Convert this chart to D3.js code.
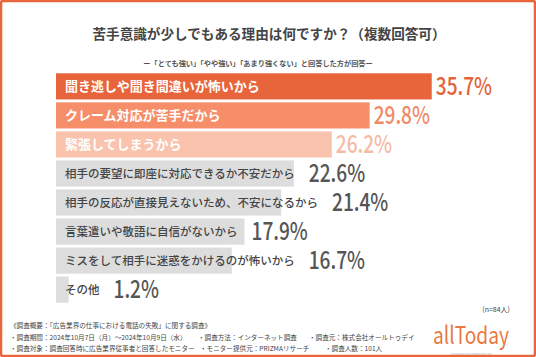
<!DOCTYPE html>
<html><head><meta charset="utf-8">
<script src="https://cdn.jsdelivr.net/npm/d3@7"></script>
<style>
html,body{margin:0;padding:0;background:#fff;}
svg{display:block;}
text{font-family:"Noto Sans CJK JP","Noto Sans",sans-serif;}
</style></head>
<body>
<svg id="c" width="536" height="357"></svg>
<script>
const categories = [
  "聞き逃しや聞き間違いが怖いから",
  "クレーム対応が苦手だから",
  "緊張してしまうから",
  "相手の要望に即座に対応できるか不安だから",
  "相手の反応が直接見えないため、不安になるから",
  "言葉遣いや敬語に自信がないから",
  "ミスをして相手に迷惑をかけるのが怖いから",
  "その他"
];
const values = [35.7, 29.8, 26.2, 22.6, 21.4, 17.9, 16.7, 1.2];
const barColors = ["#e8643a", "#f58e69", "#f9c3ae", "#dddddd", "#dddddd", "#dddddd", "#dddddd", "#dddddd"];
const valueColors = ["#e4633a", "#f08a66", "#f6bba6", "#555555", "#555555", "#555555", "#555555", "#555555"];
const labelColors = ["#ffffff", "#ffffff", "#ffffff", "#444444", "#444444", "#444444", "#444444", "#444444"];
const title = "苦手意識が少しでもある理由は何ですか？（複数回答可）";
const subtitle = "ー「とても強い」「やや強い」「あまり強くない」と回答した方が回答ー";
const sampleNote = "(n=84人)";
const notes = [
  ["《調査概要：「広告業界の仕事における電話の失敗」に関する調査》"],
  ["・調査期間：2024年10月7日（月）～2024年10月9日（水）", "・調査方法：インターネット調査", "・調査元：株式会社オールトゥデイ"],
  ["・調査対象：調査回答時に広告業界従事者と回答したモニター", "・モニター提供元：PRIZMAリサーチ", "・調査人数：101人"]
];

const svg = d3.select("#c");
const W = 536, H = 357;

// frame
svg.append("rect").attr("x",1).attr("y",1).attr("width",W-2).attr("height",H-2)
  .attr("fill","#fff").attr("stroke","#e8663a").attr("stroke-width",2.5).attr("rx",2);

svg.append("text").attr("x",269).attr("y",39).attr("text-anchor","middle")
  .attr("font-size",13.6).attr("font-weight",700).attr("fill","#444").text(title);
svg.append("text").attr("x",258).attr("y",65.5).attr("text-anchor","middle")
  .attr("font-size",7.2).attr("font-weight",700).attr("fill","#555").text(subtitle);

const x = d3.scaleLinear().domain([0, 40]).range([56, 477]);
const y = d3.scaleBand().domain(categories).range([73.3, 302.7]).paddingInner(0.1);

const g = svg.append("g");
categories.forEach((c, i) => {
  const v = values[i];
  const y0 = y(c), bh = y.bandwidth();
  g.append("rect").attr("x", x(0)).attr("y", y0).attr("width", x(v) - x(0)).attr("height", bh)
    .attr("fill", barColors[i]);
  const top = i < 3;
  const lab = g.append("text").attr("x", x(0) + 9).attr("y", y0 + bh/2 + (top?4.6:4.2))
    .attr("font-size", top ? 13 : 11.5).attr("font-weight", top ? 700 : 500)
    .attr("fill", labelColors[i]).text(c);
  const textEnd = x(0) + 9 + lab.node().getComputedTextLength();
  const vx = Math.max(x(v) + 4, textEnd + 14);
  g.append("text")
    .attr("transform", `translate(${vx},${y0 + bh/2 + 8.6}) scale(0.78,1)`)
    .attr("font-family", "Roboto, 'DejaVu Sans', sans-serif")
    .attr("font-size", 24.5).attr("font-weight", 500)
    .attr("fill", valueColors[i]).text(v.toFixed(1) + "%");
});

svg.append("text").attr("x",510).attr("y",312).attr("text-anchor","end")
  .attr("font-size",7).attr("fill","#444").text(sampleNote);

const noteX = [[10],[10,198,309],[10,200,325]];
const noteY = [328, 339.5, 351];
notes.forEach((row, r) => row.forEach((t, j) => {
  svg.append("text").attr("x", noteX[r][j]).attr("y", noteY[r])
    .attr("font-size", 6.6).attr("fill","#444").text(t);
}));

// logo
svg.append("text").attr("x",433).attr("y",344).attr("font-family","Lato, 'Open Sans', sans-serif")
  .attr("font-size",24).attr("font-weight",400).attr("fill","#e9793f")
  .attr("textLength",76).attr("lengthAdjust","spacingAndGlyphs").text("allToday");
svg.append("text").attr("x",471).attr("y",354.5).attr("text-anchor","middle")
  .attr("font-size",2.2).attr("fill","#aaa").text("LIVE YOUR DAY AS IF IT WERE YOUR LAST");
</script>
</body></html>
